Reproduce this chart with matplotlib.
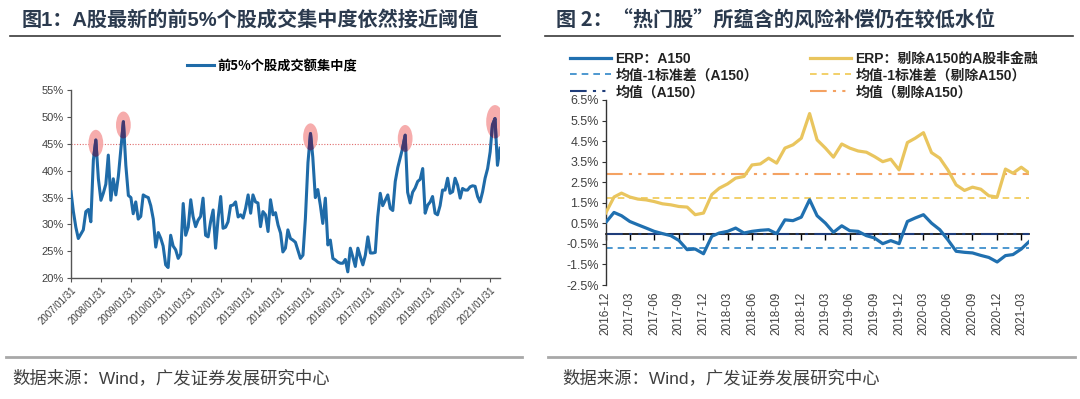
import matplotlib
matplotlib.use('Agg')
import matplotlib.pyplot as plt
import matplotlib.dates as mdates
from matplotlib.patches import Ellipse
from matplotlib.lines import Line2D
import matplotlib.ticker as mticker
import pandas as pd

plt.rcParams['font.family'] = ['Liberation Sans', 'Noto Sans CJK SC']
plt.rcParams['axes.unicode_minus'] = False

# ---------------- data: left chart ----------------
conc_start = '2007-01-31'
conc_values = [
    36.1, 32.5, 29.5, 27.4, 28.2, 29.0, 32.4, 32.8, 30.5, 42.0,
    45.7, 38.5, 34.5, 35.8, 37.5, 42.9, 34.5, 38.5, 35.5, 39.0,
    44.0, 49.1, 41.0, 35.4, 35.0, 32.0, 34.2, 31.0, 31.5, 35.5,
    35.2, 35.0, 33.5, 31.0, 25.8, 28.5, 27.4, 26.0, 22.5, 22.0,
    28.0, 26.0, 25.3, 23.7, 24.5, 33.9, 28.0, 29.5, 34.6, 31.5,
    29.6, 30.8, 31.5, 34.9, 28.0, 27.7, 30.5, 32.7, 25.6, 31.2,
    35.2, 29.3, 29.5, 30.5, 33.5, 33.6, 34.2, 31.4, 31.8, 31.2,
    33.0, 35.5, 32.1, 35.5, 34.2, 34.0, 29.6, 32.4, 31.8, 28.7,
    34.6, 31.8, 32.2, 29.9, 28.4, 24.9, 25.6, 29.0, 27.4, 27.1,
    26.7, 25.2, 23.7, 24.3, 31.2, 41.5, 46.9, 42.5, 35.0, 36.5,
    33.6, 30.2, 34.9, 26.2, 27.1, 23.7, 23.4, 23.0, 22.8, 22.8,
    23.5, 21.2, 25.6, 24.0, 22.2, 25.6, 24.0, 22.5, 24.3, 27.7,
    24.7, 24.7, 24.8, 31.4, 35.8, 33.5, 34.5, 35.5, 33.0, 32.6,
    38.0, 40.6, 42.5, 44.2, 46.6, 36.0, 34.0, 36.0, 36.8, 38.0,
    38.4, 40.4, 32.1, 33.6, 34.2, 35.2, 32.1, 31.8, 33.5, 36.4,
    36.4, 38.6, 35.8, 36.1, 38.6, 37.3, 34.9, 36.7, 36.4, 36.4,
    37.0, 37.2, 37.1, 35.2, 34.2, 36.1, 38.6, 40.4, 43.5, 48.5,
    49.7, 41.0, 44.2,
]
conc_label = '前5%个股成交额集中度'
peak_idx = [10, 21, 96, 134, 170]
threshold = 45
left_tick_labels = [f'{y}/01/31' for y in range(2007, 2022)]
left_yticks = [20, 25, 30, 35, 40, 45, 50, 55]

# ---------------- data: right chart ----------------
erp_start = '2016-12-31'
erp_a150 = [
    0.54, 1.03, 0.87, 0.59, 0.43, 0.27, 0.11, 0.00, -0.10, -0.33,
    -0.78, -0.75, -0.98, -0.13, 0.03, 0.11, 0.27, 0.03, 0.11, 0.16,
    0.19, 0.00, 0.67, 0.63, 0.80, 1.65, 0.87, 0.51, 0.06, 0.38,
    0.14, 0.11, -0.10, -0.21, -0.49, -0.34, -0.49, 0.59, 0.76, 0.92,
    0.51, 0.19, -0.30, -0.86, -0.91, -0.94, -1.06, -1.16, -1.38, -1.07,
    -1.02, -0.75, -0.38,
]
erp_ex = [
    1.00, 1.78, 1.97, 1.78, 1.68, 1.64, 1.56, 1.45, 1.40, 1.32,
    1.29, 0.92, 1.00, 1.90, 2.21, 2.42, 2.70, 2.78, 3.34, 3.39,
    3.67, 3.43, 4.16, 4.32, 4.64, 5.84, 4.56, 4.16, 3.72, 4.36,
    4.16, 4.02, 3.96, 3.75, 3.50, 3.62, 3.10, 4.43, 4.64, 4.91,
    3.94, 3.67, 3.10, 2.37, 2.10, 2.26, 2.16, 1.84, 1.78, 3.14,
    2.94, 3.23, 2.94,
]
a150_mean = -0.02
a150_mean_m1sd = -0.70
ex_mean = 2.91
ex_mean_m1sd = 1.73
right_yticks = [-2.5, -1.5, -0.5, 0.5, 1.5, 2.5, 3.5, 4.5, 5.5, 6.5]
labels_right = ['ERP：A150', '均值-1标准差（A150）', '均值（A150）',
                'ERP：剔除A150的A股非金融', '均值-1标准差（剔除A150）', '均值（剔除A150）']

titles = ['图1：A股最新的前5%个股成交集中度依然接近阈值',
          '图 2：“热门股”所蕴含的风险补偿仍在较低水位']
source = '数据来源：Wind，广发证券发展研究中心'

# ---------------- figure ----------------
W, H = 1080, 399
fig = plt.figure(figsize=(W / 100, H / 100), dpi=100)

def fx(px):
    return px / W

def fy(py):
    return 1 - py / H

text_col = '#404040'
title_col = '#2B3A4E'

# titles / separators / sources
fig.text(fx(22), fy(20), titles[0], fontsize=14.5, fontweight='bold', color=title_col,
         va='center', ha='left', family=['Liberation Sans', 'Noto Sans CJK SC'])
fig.text(fx(556), fy(20), titles[1], fontsize=14.5, fontweight='bold', color=title_col,
         va='center', ha='left', family=['Noto Sans CJK SC', 'Liberation Sans'])
for x0, x1 in [(10, 500), (545, 1073)]:
    fig.add_artist(Line2D([fx(x0), fx(x1)], [fy(36), fy(36)], color='#3A3A3A', lw=1.2,
                          transform=fig.transFigure))
for x0, x1 in [(6, 522), (548, 1075)]:
    fig.add_artist(Line2D([fx(x0), fx(x1)], [fy(357), fy(357)], color='#A8A8A8', lw=2.0,
                          transform=fig.transFigure))
fig.text(fx(12), fy(378), source, fontsize=12.5, color=text_col, va='center', ha='left')
fig.text(fx(562), fy(378), source, fontsize=12.5, color=text_col, va='center', ha='left')

# ---------------- left chart ----------------
blue = '#1F6BA8'
axL = fig.add_axes([fx(71), fy(278.3), fx(500) - fx(71), fy(90) - fy(278.3)])
dates_L = pd.date_range(conc_start, periods=len(conc_values), freq='ME')
line, = axL.plot(dates_L, conc_values, color=blue, lw=2.2, label=conc_label, zorder=3,
                 solid_joinstyle='round')
axL.axhline(threshold, color='#E06A6A', lw=0.8, ls=(0, (1, 1.5)), zorder=2)
xnum = mdates.date2num(dates_L)
for k, i in enumerate(peak_idx):
    big = (i == peak_idx[-1])
    w = 215 if big else 180
    h = 6.2 if big else 5.0
    el = Ellipse((xnum[i], conc_values[i] - 0.6), width=w, height=h,
                 facecolor='#F6A8A8', edgecolor='none', alpha=0.95, zorder=2)
    axL.add_patch(el)
    el2 = Ellipse((xnum[i], conc_values[i] - 0.6), width=w, height=h,
                  facecolor='none', edgecolor='none', transform=axL.transData)
    dark, = axL.plot(dates_L, conc_values, color='#45386F', lw=2.2, zorder=4)
    dark.set_clip_path(el2)

axL.set_xlim(dates_L[0], dates_L[-1])
axL.set_ylim(20, 55)
axL.set_yticks(left_yticks)
axL.yaxis.set_major_formatter(mticker.FuncFormatter(lambda v, p: f'{v:.0f}%'))
tickdates = [pd.Timestamp(s.replace('/', '-')) for s in left_tick_labels]
axL.set_xticks(tickdates)
axL.set_xticklabels(left_tick_labels, rotation=45, ha='right', rotation_mode='anchor')
for sp in ['top', 'right']:
    axL.spines[sp].set_visible(False)
for sp in ['left', 'bottom']:
    axL.spines[sp].set_color('#555555')
    axL.spines[sp].set_linewidth(1.0)
axL.tick_params(axis='both', direction='out', length=3, color='#555555', labelcolor=text_col)
axL.tick_params(axis='y', labelsize=8, pad=2)
axL.tick_params(axis='x', labelsize=7, pad=2)
axL.legend(handles=[line], loc='center', bbox_to_anchor=(fx(272), fy(66)),
           bbox_transform=fig.transFigure, frameon=False, handlelength=2.0,
           handletextpad=0.25, prop={'size': 9.5, 'weight': 'bold',
                                     'family': ['Noto Sans CJK SC', 'Liberation Sans']})

# ---------------- right chart ----------------
ax = fig.add_axes([fx(605.7), fy(285), fx(1029.3) - fx(605.7), fy(100) - fy(285)])
dates_R = pd.date_range(erp_start, periods=len(erp_a150), freq='ME')
c_blue = '#2070B0'
c_yel = '#E9C55E'
h_mean_a = ax.axhline(a150_mean, color='#1F3D7A', lw=1.5, dashes=(8, 3, 1.5, 3, 1.5, 3), zorder=2)
h_sd_a = ax.axhline(a150_mean_m1sd, color='#2F86C8', lw=1.2, dashes=(4, 3), zorder=2)
h_mean_e = ax.axhline(ex_mean, color='#F4A262', lw=1.5, dashes=(8, 3, 1.5, 3, 1.5, 3), zorder=2)
h_sd_e = ax.axhline(ex_mean_m1sd, color='#F0C850', lw=1.2, dashes=(4, 3), zorder=2)
h_a, = ax.plot(dates_R, erp_a150, color=c_blue, lw=2.3, zorder=4)
h_e, = ax.plot(dates_R, erp_ex, color=c_yel, lw=2.3, zorder=4)

ymin, ymax = -2.5, 6.5
ax.set_ylim(ymin, ymax)
ax.set_xlim(dates_R[0], dates_R[-1])
ax.set_yticks(right_yticks)
ax.yaxis.set_major_formatter(mticker.FuncFormatter(lambda v, p: f'{v:.1f}%'))
qt = dates_R[::3]
ax.set_xticks(qt)
ax.set_xticklabels([d.strftime('%Y-%m') for d in qt], rotation=90, ha='center', va='top')
for sp in ['top', 'right', 'bottom']:
    ax.spines[sp].set_visible(False)
ax.spines['left'].set_color('#333333')
ax.spines['left'].set_linewidth(1.0)
ax.tick_params(axis='y', direction='out', length=3, color='#333333', labelcolor=text_col,
               labelsize=9, pad=2)
ax.tick_params(axis='x', length=0, labelcolor=text_col, labelsize=8.5, pad=5)

sec = ax.secondary_xaxis((0 - ymin) / (ymax - ymin))
sec.set_xticks(mdates.date2num(qt))
sec.tick_params(axis='x', direction='out', length=4, width=1.0, color='black',
                labelbottom=False, labeltop=False)
sec.spines['bottom'].set_color('black')
sec.spines['bottom'].set_linewidth(1.2)

leg_prop = {'size': 10, 'weight': 'bold', 'family': ['Liberation Sans', 'Noto Sans CJK SC']}
leg1 = ax.legend(handles=[h_a, h_sd_a, h_mean_a], labels=labels_right[:3], loc='upper left',
                 bbox_to_anchor=(fx(564), fy(46)), bbox_transform=fig.transFigure,
                 frameon=False, handlelength=3.0, handletextpad=0.3, labelspacing=0.2,
                 borderaxespad=0, prop=leg_prop, labelcolor='#222222')
ax.add_artist(leg1)
ax.legend(handles=[h_e, h_sd_e, h_mean_e], labels=labels_right[3:], loc='upper left',
          bbox_to_anchor=(fx(804), fy(46)), bbox_transform=fig.transFigure,
          frameon=False, handlelength=3.0, handletextpad=0.3, labelspacing=0.2,
          borderaxespad=0, prop=leg_prop, labelcolor='#222222')

fig.savefig('out.png', dpi=100)
